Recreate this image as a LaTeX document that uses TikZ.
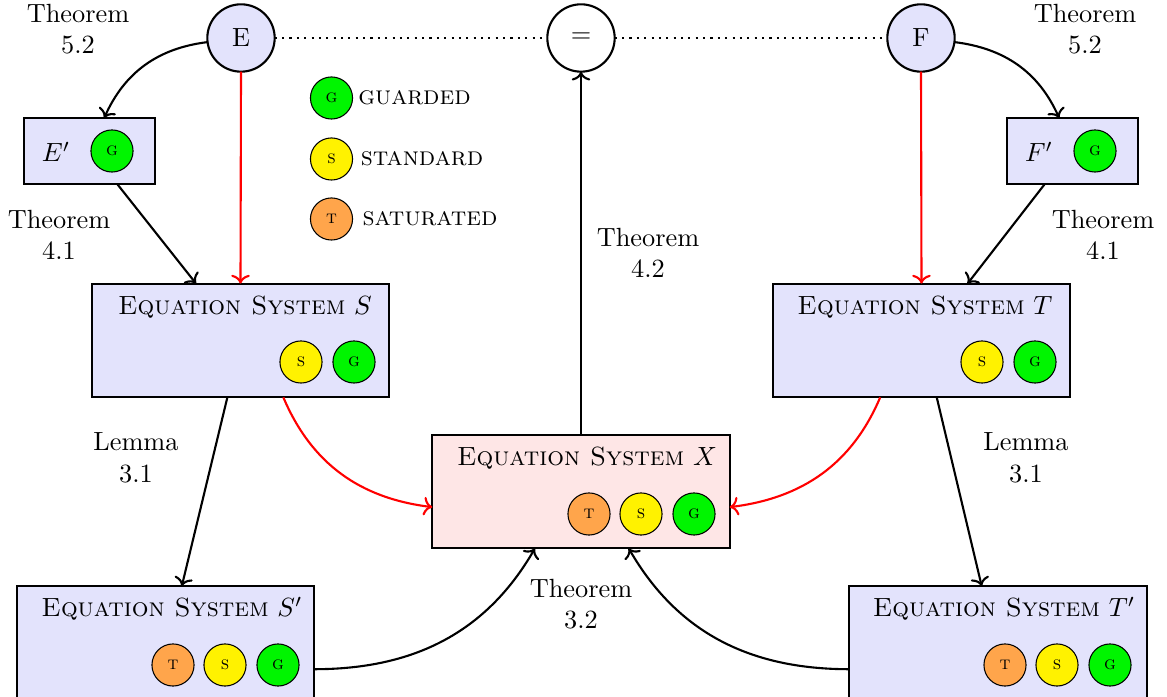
\documentclass[tikz,border=0pt]{standalone}
\usetikzlibrary{arrows.meta}
\definecolor{lav}{RGB}{227,227,252}
\definecolor{pinkb}{RGB}{254,230,230}
\definecolor{gc}{RGB}{0,245,0}
\definecolor{yc}{RGB}{255,242,0}
\definecolor{oc}{RGB}{255,165,75}
\tikzset{
  >={To[scale=1.0]},
  bigc/.style={circle,draw,line width=0.8pt,minimum size=25.6pt,inner sep=0pt,outer sep=0pt},
  sysbox/.style={draw,line width=0.8pt,fill=#1,minimum width=113pt,minimum height=43.2pt,inner sep=0pt,outer sep=0pt},
  smallbox/.style={draw,line width=0.8pt,fill=lav,minimum width=49.8pt,minimum height=25pt,inner sep=0pt,outer sep=0pt},
  badge/.style={circle,draw,line width=0.4pt,fill=#1,minimum size=16pt,inner sep=0pt,outer sep=0pt,font=\scriptsize\scshape},
  conn/.style={->,line width=0.8pt},
  redconn/.style={->,line width=0.8pt,red},
  lab/.style={align=center,inner sep=0pt},
  leg/.style={inner sep=0pt,font=\scshape}
}
\begin{document}
\begin{tikzpicture}[x=0.38pt,y=-0.38pt]
\useasboundingbox (0,0) rectangle (1167,697);
\clip (0,0) rectangle (1167,697);
\node[bigc,fill=lav] (E) at (241,38) {E};
\node[bigc] (Q) at (581,38) {=};
\node[bigc,fill=lav] (F) at (921,38) {F};
\node[smallbox] (Ep) at (89.5,151) {};
\node[smallbox] (Fp) at (1072.5,151) {};
\node (EpT) at (56,152) {$E'$};
\node (FpT) at (1039,152) {$F'$};
\node[badge=gc] (EpG) at (112,151) {g};
\node[badge=gc] (FpG) at (1095,151) {g};
\node[sysbox=lav] (S) at (240.5,340.5) {};
\node[sysbox=lav] (T) at (921.5,340.5) {};
\node[sysbox=pinkb] (X) at (581,491.5) {};
\node[sysbox=lav] (Sp) at (165.5,643) {};
\node[sysbox=lav] (Tp) at (998,643) {};
\node (ST) at (245,307) {\textsc{Equation System} $S$};
\node (TT) at (925,307) {\textsc{Equation System} $T$};
\node (XT) at (587,458) {\textsc{Equation System} $X$};
\node (SpT) at (172,609) {\textsc{Equation System} $S'$};
\node (TpT) at (1004,609) {\textsc{Equation System} $T'$};
\node[badge=yc] (Ss) at (301,362) {s};
\node[badge=gc] (Sg) at (354,362) {g};
\node[badge=yc] (Ts) at (982,362) {s};
\node[badge=gc] (Tg) at (1035,362) {g};
\node[badge=oc] (Xt) at (589,514) {t};
\node[badge=yc] (Xs) at (641,514) {s};
\node[badge=gc] (Xg) at (694,514) {g};
\node[badge=oc] (Spt) at (173,665) {t};
\node[badge=yc] (Sps) at (225,665) {s};
\node[badge=gc] (Spg) at (278,665) {g};
\node[badge=oc] (Tpt) at (1005,665) {t};
\node[badge=yc] (Tps) at (1057,665) {s};
\node[badge=gc] (Tpg) at (1110,665) {g};
\node[badge=gc] (Lg) at (331.5,98) {g};
\node[badge=yc] (Ls) at (331.5,159) {s};
\node[badge=oc] (Lt) at (331.5,219) {t};
\node[leg] (LgT) at (414.5,98) {guarded};
\node[leg] (LsT) at (422,159) {standard};
\node[leg] (LtT) at (430,219) {saturated};
\node[lab] (L1) at (78,29) {Theorem\\5.2};
\node[lab] (L2) at (1085,29) {Theorem\\5.2};
\node[lab] (L3) at (59,235) {Theorem\\4.1};
\node[lab] (L4) at (1103,235) {Theorem\\4.1};
\node[lab] (L5) at (136,458) {Lemma\\3.1};
\node[lab] (L6) at (1026,458) {Lemma\\3.1};
\node[lab] (L7) at (648,253) {Theorem\\4.2};
\node[lab] (L8) at (581,604) {Theorem\\3.2};
\draw[line width=0.8pt,dotted] (E.east) -- (Q.west);
\draw[line width=0.8pt,dotted] (Q.east) -- (F.west);
\draw[conn] (E.187) to[out=187,in=66] (Ep.66);
\draw[conn] (F.-7) to[out=-7,in=114] (Fp.112);
\draw[redconn] (E.south) -- (S.north);
\draw[redconn] (F.south) -- (T.north);
\draw[conn] (Ep.-50) -- (S.128);
\draw[conn] (Fp.-130) -- (T.51);
\draw[conn] (S.-103.4) -- (Sp.74.8);
\draw[conn] (T.-75.6) -- (Tp.106.7);
\draw[conn] (X.north) -- (Q.south);
\draw[redconn] (S.-53) to[out=-67,in=173] (X.186.3);
\draw[redconn] (T.-126.3) to[out=-113,in=7] (X.-6.3);
\draw[conn] (Sp.-10.5) to[out=0,in=-120] (X.-129);
\draw[conn] (Tp.190.5) to[out=180,in=-60] (X.-50.2);
\end{tikzpicture}
\end{document}
